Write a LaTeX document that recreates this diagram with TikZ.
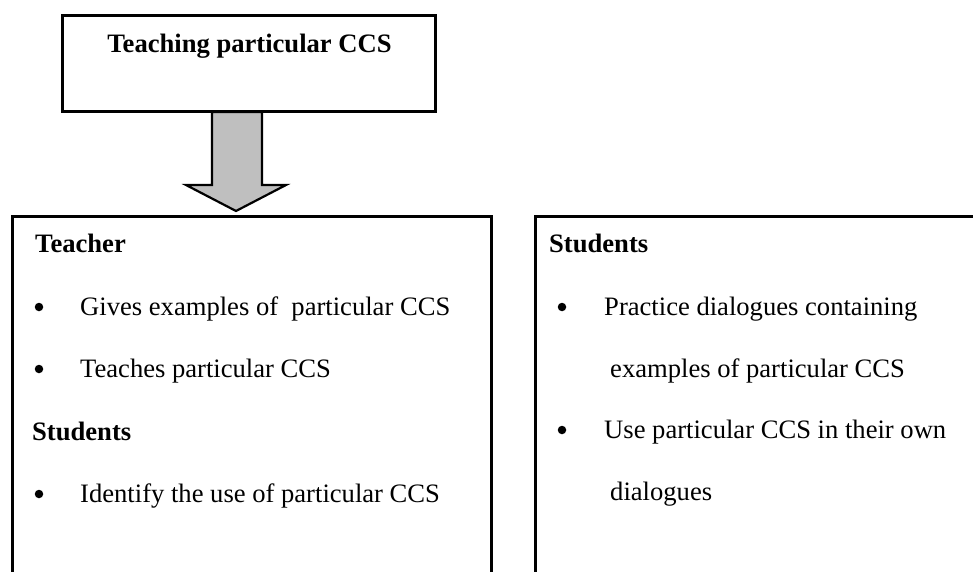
\documentclass[tikz,border=0pt]{standalone}
\usepackage{fontspec}
\setmainfont{Liberation Serif}
\begin{document}
\begin{tikzpicture}[x=1pt,y=-1pt,
  frame/.style={draw=black, line width=3pt, fill=none, inner sep=0pt},
  txt/.style={anchor=base west, inner sep=0pt, font=\fontsize{26.6}{30}\selectfont},
  head/.style={txt, font=\fontsize{26.6}{30}\selectfont\bfseries},
  dot/.style={circle, fill=black, draw=none, inner sep=0pt, minimum size=8.5pt},
  bigarrow/.style={draw=black, line width=2.2pt, fill=black!25, line join=miter}
]
\useasboundingbox (0,0) rectangle (973,572);
\clip (0,0) rectangle (973,572);

% top box
\node[frame, minimum width=373pt, minimum height=96pt] (top) at (248.5,64) {};
\node[head, anchor=base] (toptext) at (249.5,53) {Teaching particular CCS};

% left box (open at the bottom, beyond the page)
\node[frame, minimum width=479pt, minimum height=484pt] (left) at (251.5,458) {};
% right box (open at the right and bottom)
\node[frame, minimum width=565pt, minimum height=484pt] (right) at (817.5,458) {};

% arrow from the top box to the left box
\coordinate (a1) at (212,112);
\coordinate (a2) at (262,112);
\coordinate (a3) at (262,185);
\coordinate (a4) at (286,185);
\coordinate (tip) at (236,211);
\coordinate (a6) at (186,185);
\coordinate (a7) at (212,185);
\draw[bigarrow] (a1) -- (a2) -- (a3) -- (a4) -- (tip) -- (a6) -- (a7) -- cycle;

% left box contents
\node[head] (teacher) at (35,252) {Teacher};
\node[dot] (b1) at (39,307) {};
\node[txt] (t1) at (80,315) {Gives examples of \ particular CCS};
\node[dot] (b2) at (39,369) {};
\node[txt] (t2) at (80,377) {Teaches particular CCS};
\node[head] (students1) at (32,440) {Students};
\node[dot] (b3) at (39,494) {};
\node[txt] (t3) at (80,502) {Identify the use of particular CCS};

% right box contents
\node[head] (students2) at (549,252) {Students};
\node[dot] (b4) at (562,307) {};
\node[txt] (t4) at (604,315) {Practice dialogues containing};
\node[txt] (t5) at (610,377) {examples of particular CCS};
\node[dot] (b5) at (562,430) {};
\node[txt] (t6) at (604,438) {Use particular CCS in their own};
\node[txt] (t7) at (610,500) {dialogues};
\end{tikzpicture}
\end{document}
